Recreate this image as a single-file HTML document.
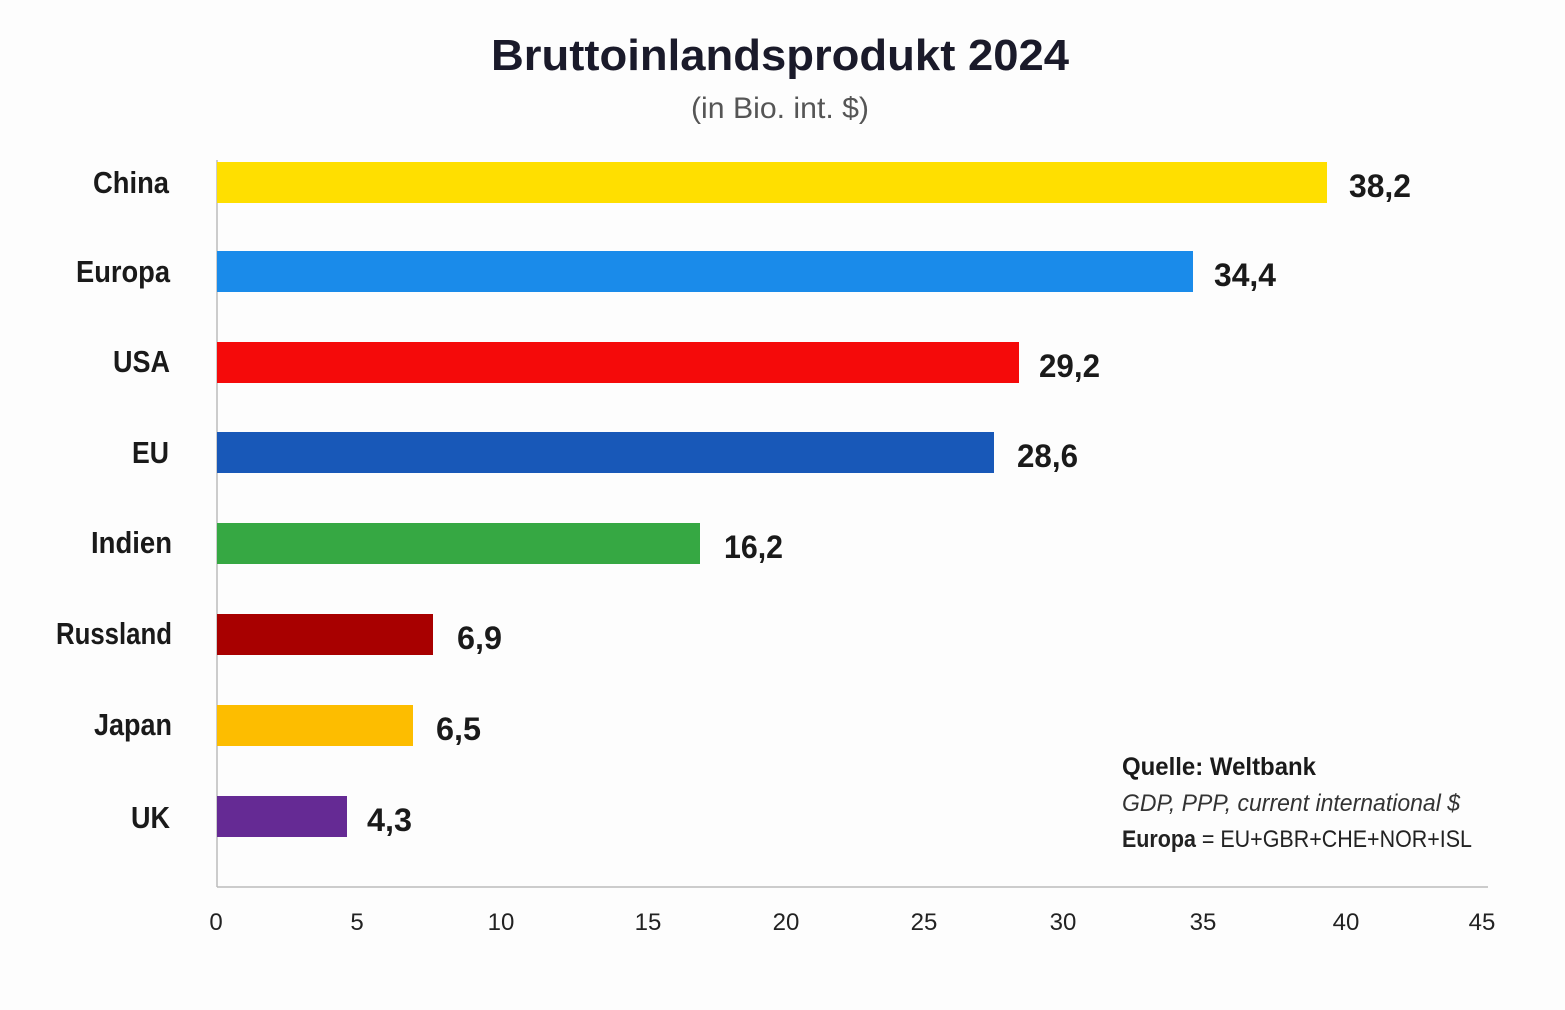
<!DOCTYPE html>
<html><head><meta charset="utf-8"><style>html,body{margin:0;padding:0;background:#fdfdfd}</style></head>
<body>
<svg width="1565" height="1005" xmlns="http://www.w3.org/2000/svg" font-family="Liberation Sans, sans-serif">
<rect width="1565" height="1005" fill="#fdfdfd"/>
<text x="780" y="70" text-anchor="middle" font-size="44" font-weight="bold" fill="#1a1a2a" textLength="578" lengthAdjust="spacingAndGlyphs">Bruttoinlandsprodukt 2024</text>
<text x="780" y="118" text-anchor="middle" font-size="30" fill="#555" textLength="178" lengthAdjust="spacingAndGlyphs">(in Bio. int. $)</text>
<line x1="217" y1="160" x2="217" y2="887" stroke="#bbb" stroke-width="1.5"/>
<line x1="217" y1="887" x2="1488" y2="887" stroke="#bbb" stroke-width="1.5"/>
<g font-size="24" fill="#222" text-anchor="middle">
<text x="216" y="930">0</text><text x="357" y="930">5</text><text x="501" y="930">10</text><text x="648" y="930">15</text><text x="786" y="930">20</text><text x="924" y="930">25</text><text x="1063" y="930">30</text><text x="1203" y="930">35</text><text x="1346" y="930">40</text><text x="1482" y="930">45</text>
</g>
<rect x="217" y="162" width="1110" height="41" fill="#FFDF00"/>
<rect x="217" y="251" width="976" height="41" fill="#1A8BEA"/>
<rect x="217" y="342" width="802" height="41" fill="#F50A0A"/>
<rect x="217" y="432" width="777" height="41" fill="#1858B8"/>
<rect x="217" y="523" width="483" height="41" fill="#36A843"/>
<rect x="217" y="614" width="216" height="41" fill="#A80000"/>
<rect x="217" y="705" width="196" height="41" fill="#FDBD00"/>
<rect x="217" y="796" width="130" height="41" fill="#652A94"/>
<g font-size="31" font-weight="bold" fill="#1a1a1a" text-anchor="end">
<text x="169" y="193" textLength="76" lengthAdjust="spacingAndGlyphs">China</text>
<text x="170" y="282" textLength="94" lengthAdjust="spacingAndGlyphs">Europa</text>
<text x="170" y="372" textLength="57" lengthAdjust="spacingAndGlyphs">USA</text>
<text x="169" y="463" textLength="37" lengthAdjust="spacingAndGlyphs">EU</text>
<text x="172" y="553" textLength="81" lengthAdjust="spacingAndGlyphs">Indien</text>
<text x="172" y="644" textLength="116" lengthAdjust="spacingAndGlyphs">Russland</text>
<text x="172" y="735" textLength="78" lengthAdjust="spacingAndGlyphs">Japan</text>
<text x="170" y="828" textLength="39" lengthAdjust="spacingAndGlyphs">UK</text>
</g>
<g font-size="32" font-weight="bold" fill="#1a1a1a">
<text x="1349" y="197" textLength="62" lengthAdjust="spacingAndGlyphs">38,2</text>
<text x="1214" y="286" textLength="62" lengthAdjust="spacingAndGlyphs">34,4</text>
<text x="1039" y="377" textLength="61" lengthAdjust="spacingAndGlyphs">29,2</text>
<text x="1017" y="467" textLength="61" lengthAdjust="spacingAndGlyphs">28,6</text>
<text x="724" y="558" textLength="59" lengthAdjust="spacingAndGlyphs">16,2</text>
<text x="457" y="649" textLength="45" lengthAdjust="spacingAndGlyphs">6,9</text>
<text x="436" y="740" textLength="45" lengthAdjust="spacingAndGlyphs">6,5</text>
<text x="367" y="831" textLength="45" lengthAdjust="spacingAndGlyphs">4,3</text>
</g>
<text x="1122" y="775" font-size="25" font-weight="bold" fill="#1a1a1a" textLength="194" lengthAdjust="spacingAndGlyphs">Quelle: Weltbank</text>
<text x="1122" y="811" font-size="24" font-style="italic" fill="#333" textLength="338" lengthAdjust="spacingAndGlyphs">GDP, PPP, current international $</text>
<text x="1122" y="847" font-size="24" fill="#222" textLength="350" lengthAdjust="spacingAndGlyphs"><tspan font-weight="bold">Europa</tspan> = EU+GBR+CHE+NOR+ISL</text>
</svg>
</body></html>
